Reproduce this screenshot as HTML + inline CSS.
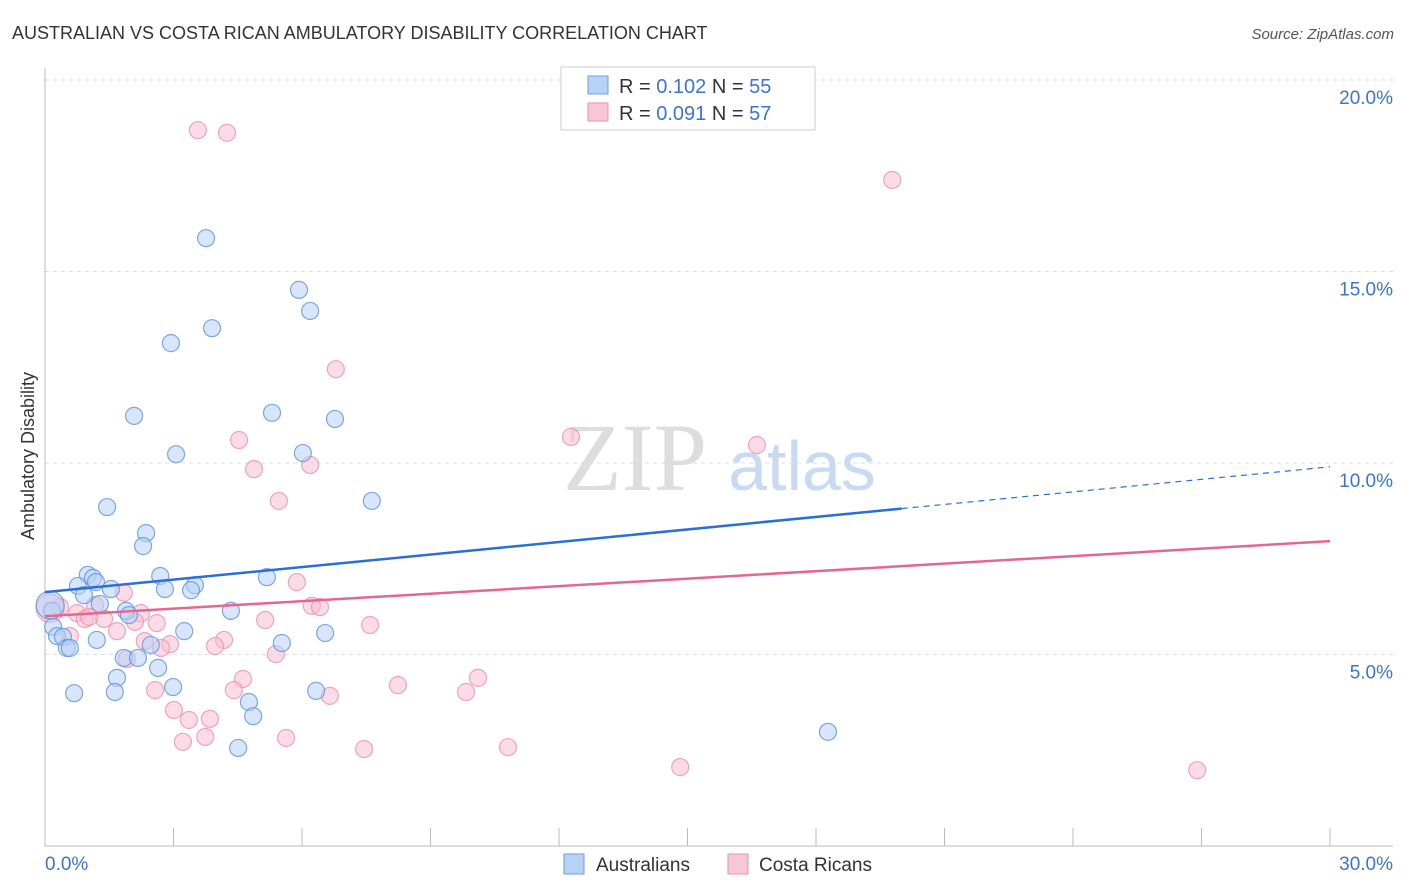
<!DOCTYPE html>
<html><head><meta charset="utf-8"><style>
body{margin:0;background:#fff;font-family:"Liberation Sans",sans-serif}
svg{display:block}
</style></head><body>
<svg id="c" width="1406" height="892" xmlns="http://www.w3.org/2000/svg">
<text x="12" y="39" font-size="18" fill="#333">AUSTRALIAN VS COSTA RICAN AMBULATORY DISABILITY CORRELATION CHART</text>
<text x="1394" y="39" font-size="15" fill="#555" font-style="italic" text-anchor="end">Source: ZipAtlas.com</text>
<text x="34" y="456" font-size="18" fill="#333" text-anchor="middle" transform="rotate(-90 34 456)">Ambulatory Disability</text>
<g>
<text x="635" y="490" font-size="96" fill="#ddd" font-family="Liberation Serif,serif" text-anchor="middle">ZIP</text>
<text x="802" y="490" font-size="70" fill="#c8daf2" text-anchor="middle">atlas</text>
</g>
<g id="grid"></g><g id="axes"></g><g id="pts"></g><g id="lines"></g>
<g>
<rect x="561" y="67" width="254" height="63" fill="#fff" stroke="#ccc"/>
<rect x="588" y="76" width="20" height="18" fill="#b7d2f5" stroke="#6e9fe0"/>
<rect x="588" y="103" width="20" height="18" fill="#f8c7d6" stroke="#ec90ae"/>
<text x="619" y="93" font-size="20" fill="#333">R = <tspan fill="#3b73d3">0.102</tspan>   N = <tspan fill="#3b73d3">55</tspan></text>
<text x="619" y="120" font-size="20" fill="#333">R = <tspan fill="#3b73d3">0.091</tspan>   N = <tspan fill="#3b73d3">57</tspan></text>
</g>
<g>
<rect x="564" y="854" width="20" height="20" fill="#b7d2f5" stroke="#6e9fe0"/>
<text x="596" y="871" font-size="19" fill="#333">Australians</text>
<rect x="728" y="854" width="20" height="20" fill="#f8c7d6" stroke="#ec90ae"/>
<text x="759" y="871" font-size="19" fill="#333">Costa Ricans</text>
</g>
</svg>
<script>
const yTicks=[5,10,15,20];
const yTickLabels=["5.0%","10.0%","15.0%","20.0%"];
const xTicks=[0,3,6,9,12,15,18,21,24,27,30];
const blueX=[3.76,5.93,6.19,3.90,2.94,2.08,5.30,6.77,3.06,6.02,7.63,1.45,2.36,2.29,1.00,1.12,2.69,5.18,0.77,1.19,3.50,2.80,3.41,1.54,0.91,1.28,1.89,4.34,1.96,0.16,0.19,0.28,0.42,1.21,3.25,6.54,5.53,2.47,0.51,0.58,1.84,2.17,2.64,1.68,2.99,0.68,1.63,6.33,4.76,4.86,4.51,18.28,0.12];
const blueY=[15.87,14.52,13.97,13.52,13.13,11.23,11.31,11.15,10.23,10.26,9.01,8.85,8.17,7.83,7.08,7.00,7.05,7.02,6.79,6.89,6.81,6.71,6.68,6.71,6.55,6.32,6.14,6.14,6.03,6.14,5.72,5.48,5.46,5.38,5.61,5.56,5.30,5.25,5.17,5.17,4.91,4.91,4.65,4.39,4.15,3.99,4.02,4.05,3.76,3.39,2.56,2.98,6.29];
const pinkX=[3.57,4.25,19.78,6.79,12.28,16.62,4.53,6.19,4.88,5.46,5.88,6.23,6.42,0.35,0.75,1.17,1.84,2.24,0.93,1.38,1.03,2.10,2.61,1.68,0.58,5.14,7.59,2.33,2.92,2.71,4.18,3.97,5.39,1.91,4.62,2.57,4.41,8.24,10.11,9.83,6.65,3.01,3.36,3.85,3.74,3.22,5.63,7.45,10.81,14.83,26.90,0.12];
const pinkY=[18.69,18.62,17.39,12.45,10.68,10.47,10.60,9.95,9.84,9.01,6.89,6.27,6.24,6.24,6.08,6.29,6.61,6.08,5.93,5.93,5.98,5.85,5.82,5.61,5.48,5.90,5.77,5.35,5.27,5.17,5.38,5.22,5.01,4.88,4.36,4.07,4.07,4.20,4.39,4.02,3.92,3.55,3.29,3.32,2.85,2.72,2.82,2.53,2.58,2.06,1.98,6.21];
const blueTrend=[6.63,9.90];
const pinkTrend=[6.00,7.96];
const NS="http://www.w3.org/2000/svg";
const X=v=>45+v*(1285/30), Y=v=>846-v*38.3;
function mk(t,a,p){const e=document.createElementNS(NS,t);for(const k in a)e.setAttribute(k,a[k]);p.appendChild(e);return e;}
const grid=document.getElementById('grid'),axes=document.getElementById('axes'),pts=document.getElementById('pts'),lines=document.getElementById('lines');
yTicks.forEach((t,i)=>{
 const l=mk('line',{x1:45,x2:1393,y1:Y(t),y2:Y(t),stroke:'#ddd','stroke-dasharray':'4,4'},grid);
 
 
 const tx=mk('text',{x:1393,y:Y(t)+24,'font-size':19,fill:'#3b73d3','text-anchor':'end'},axes);
 tx.textContent=yTickLabels[i];
 
 
});
const tg=mk('line',{x1:45,x2:1393,y1:80,y2:80,stroke:'#ddd','stroke-dasharray':'4,4'},grid);


const ya=mk('line',{x1:45,x2:45,y1:68,y2:846,stroke:'#bbb'},axes);


const xa=mk('line',{x1:45,x2:1393,y1:846,y2:846,stroke:'#bbb'},axes);


xTicks.forEach(t=>{const l=mk('line',{x1:X(t),x2:X(t),y1:828,y2:846,stroke:'#bbb'},axes);
 
 });
[[0,"0.0%","start",45],[30,"30.0%","end",1393]].forEach(a=>{const t=mk('text',{x:a[3],y:870,'font-size':19,fill:'#3b73d3','text-anchor':a[2]},axes);t.textContent=a[1];
 
 });
function dots(xs,ys,fill,stroke,name){xs.forEach((x,i)=>{const big=i==xs.length-1;
 const c=mk('circle',{cx:X(x),cy:Y(ys[i]),r:big?14:8.5,fill:fill,'fill-opacity':0.55,stroke:stroke,'stroke-width':1.2,'stroke-opacity':0.8},pts);
 
 });}
dots(pinkX,pinkY,'#f8c0d2','#ec90ae','costa-rican-point');
dots(blueX,blueY,'#b7d2f5','#5e93dd','australian-point');
const bEnd=20;
const b1=mk('line',{x1:X(0),y1:Y(blueTrend[0]),x2:X(bEnd),y2:Y(blueTrend[0]+(blueTrend[1]-blueTrend[0])*bEnd/30),stroke:'#2a6fd6','stroke-width':2.5},lines);


const b2=mk('line',{x1:X(bEnd),y1:Y(blueTrend[0]+(blueTrend[1]-blueTrend[0])*bEnd/30),x2:X(30),y2:Y(blueTrend[1]),stroke:'#2a6fd6','stroke-width':1.2,'stroke-dasharray':'6,5'},lines);


const p1=mk('line',{x1:X(0),y1:Y(pinkTrend[0]),x2:X(30),y2:Y(pinkTrend[1]),stroke:'#e4678f','stroke-width':2.5},lines);


</script>
</body></html>
